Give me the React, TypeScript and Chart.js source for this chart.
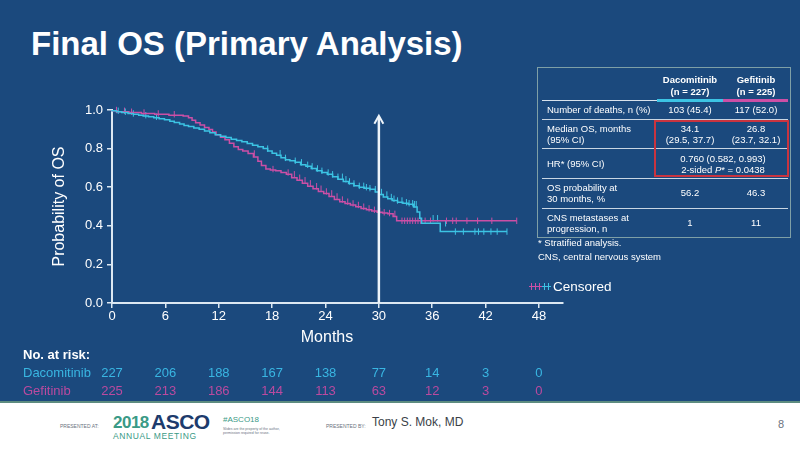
import React, { useEffect, useRef } from "react";
import { Chart, registerables } from "chart.js";

Chart.register(...registerables);

const FONT = '"Liberation Sans", Arial, Helvetica, sans-serif';
const BG = "#1b497d";
const AXIS = "#dce8f2";
const CYAN = "#3cc4e4";
const MAGENTA = "#cc4fa6";
const CYAN_TXT = "#39b6e2";
const MAG_TXT = "#bb4a9f";

// Kaplan-Meier curves: [month, survival probability]
const dacoCurve: [number, number][] = [
  [0, 1], [0.5, 0.996], [1.1, 0.991], [1.8, 0.987], [2.4, 0.982], [3.0, 0.978], [3.5, 0.973],
  [4.1, 0.969], [4.7, 0.965], [5.3, 0.96], [5.9, 0.955], [6.5, 0.949], [7.0, 0.942], [7.6, 0.935],
  [8.1, 0.928], [8.6, 0.92], [9.2, 0.914], [9.8, 0.907], [10.4, 0.9], [11.0, 0.891], [11.6, 0.882],
  [12.2, 0.872], [12.8, 0.864], [13.4, 0.857], [14.0, 0.849], [14.6, 0.842], [15.2, 0.835],
  [15.8, 0.826], [16.4, 0.818], [17.0, 0.809], [17.5, 0.8], [18.0, 0.787], [18.5, 0.776],
  [19.0, 0.766], [19.5, 0.752], [20.0, 0.742], [20.6, 0.737], [21.2, 0.729], [21.8, 0.716],
  [22.4, 0.708], [23.0, 0.697], [23.6, 0.685], [24.2, 0.676], [24.8, 0.667], [25.4, 0.654],
  [26.0, 0.641], [26.6, 0.63], [27.2, 0.619], [27.8, 0.607], [28.4, 0.6], [29.0, 0.595],
  [29.6, 0.59], [30.0, 0.575], [30.5, 0.562], [31.0, 0.549], [31.5, 0.54], [32.1, 0.531],
  [32.7, 0.522], [33.3, 0.517], [33.9, 0.512], [34.3, 0.498], [34.6, 0.472], [34.8, 0.439],
  [36.9, 0.413], [37.8, 0.37], [44.4, 0.37],
];

const gefiCurve: [number, number][] = [
  [0, 1], [0.6, 0.996], [1.9, 0.991], [3.3, 0.987], [4.8, 0.982], [6.4, 0.978], [8.0, 0.973],
  [8.6, 0.969], [9.0, 0.96], [9.4, 0.947], [9.9, 0.934], [10.4, 0.922], [10.9, 0.909],
  [11.3, 0.899], [11.7, 0.886], [12.2, 0.872], [12.7, 0.859], [13.2, 0.846], [13.7, 0.828],
  [14.2, 0.81], [14.7, 0.795], [15.3, 0.788], [15.9, 0.775], [16.4, 0.757], [16.8, 0.735],
  [17.3, 0.712], [17.8, 0.694], [18.4, 0.689], [19.0, 0.685], [19.6, 0.676], [20.2, 0.667],
  [20.8, 0.649], [21.4, 0.636], [22.0, 0.62], [22.6, 0.605], [23.2, 0.592], [23.8, 0.578],
  [24.4, 0.568], [25.0, 0.552], [25.6, 0.536], [26.2, 0.525], [26.8, 0.516], [27.4, 0.508],
  [28.0, 0.499], [28.6, 0.49], [29.2, 0.483], [29.8, 0.477], [30.4, 0.47], [31.0, 0.466],
  [31.6, 0.462], [32.0, 0.448], [32.4, 0.426], [45.5, 0.426],
];

// Censoring times (months)
const dacoCensor: number[] = [
  0.7, 1.5, 2.4, 3.8, 5.0, 17.5, 18.9, 19.5, 20.6, 21.3, 22.0, 22.5, 23.1, 23.6, 24.3, 24.8,
  25.4, 25.9, 26.3, 26.7, 27.2, 27.8, 28.3, 28.6, 29.0, 29.6, 30.3, 30.9, 31.4, 31.7, 32.1,
  32.6, 33.1, 33.4, 33.8, 34.0, 34.2, 36.1, 36.6, 37.5, 38.6, 39.5, 40.8, 41.2, 41.8, 42.6,
  43.3, 44.4,
];
const gefiCensor: number[] = [
  0.5, 1.4, 2.2, 3.6, 5.2, 7.0, 16.0, 18.1, 19.8, 20.5, 21.1, 21.7, 22.3, 23.0, 23.5, 24.1,
  24.7, 25.3, 25.9, 26.5, 27.1, 27.7, 28.3, 28.9, 29.5, 30.1, 30.6, 31.2, 31.8, 32.6, 32.9,
  33.2, 33.5, 33.8, 34.1, 34.4, 34.7, 35.2, 35.8, 37.6, 38.3, 38.7, 39.9, 41.1, 42.7, 45.5,
];

// Number at risk
const riskMonths: number[] = [0, 6, 12, 18, 24, 30, 36, 42, 48];
const dacoRisk: number[] = [227, 206, 188, 167, 138, 77, 14, 3, 0];
const gefiRisk: number[] = [225, 213, 186, 144, 113, 63, 12, 3, 0];

const arrowMonth = 30;
const arrowTop = 0.97;

function survAt(curve: [number, number][], t: number): number {
  let s = curve[0][1];
  for (const [m, v] of curve) {
    if (m <= t) s = v;
    else break;
  }
  return s;
}

const overlayPlugin = {
  id: "overlay",
  afterDatasetsDraw(chart: any) {
    const { ctx, scales } = chart;
    const x = scales.x;
    const y = scales.y;
    ctx.save();
    const ax = x.getPixelForValue(arrowMonth);
    const y0 = y.getPixelForValue(0);
    const y1 = y.getPixelForValue(arrowTop);
    ctx.strokeStyle = "#eef4fa";
    ctx.lineWidth = 2.5;
    ctx.beginPath();
    ctx.moveTo(ax, y0);
    ctx.lineTo(ax, y1 + 1);
    ctx.stroke();
    ctx.lineWidth = 2;
    ctx.beginPath();
    ctx.moveTo(ax - 4.5, y1 + 8);
    ctx.lineTo(ax, y1);
    ctx.lineTo(ax + 4.5, y1 + 8);
    ctx.stroke();

    ctx.font = `13px ${FONT}`;
    ctx.textAlign = "center";
    ctx.textBaseline = "middle";
    riskMonths.forEach((m, i) => {
      const px = x.getPixelForValue(m);
      ctx.fillStyle = CYAN_TXT;
      ctx.fillText(String(dacoRisk[i]), px, 373);
      ctx.fillStyle = MAG_TXT;
      ctx.fillText(String(gefiRisk[i]), px, 391);
    });
    ctx.restore();
  },
};

type TxtProps = {
  x: number;
  y: number;
  size?: number;
  bold?: boolean;
  color?: string;
  align?: "left" | "center" | "right";
  style?: React.CSSProperties;
  children: React.ReactNode;
};

function Txt({ x, y, size = 9.5, bold = false, color = "#fff", align = "left", style, children }: TxtProps) {
  const tx = align === "center" ? "-50%" : align === "right" ? "-100%" : "0";
  return (
    <div
      style={{
        position: "absolute",
        left: x,
        top: y,
        transform: `translate(${tx}, -50%)`,
        fontSize: size,
        fontWeight: bold ? 700 : 400,
        color,
        whiteSpace: "nowrap",
        lineHeight: 1.15,
        textAlign: align,
        ...style,
      }}
    >
      {children}
    </div>
  );
}

function Line({ x1, x2, y, color, h = 1 }: { x1: number; x2: number; y: number; color: string; h?: number }) {
  return <div style={{ position: "absolute", left: x1, top: y - h / 2, width: x2 - x1, height: h, background: color }} />;
}

export default function App() {
  const canvasRef = useRef<HTMLCanvasElement | null>(null);

  useEffect(() => {
    if (!canvasRef.current) return;
    Chart.defaults.font.family = FONT;
    const chart = new Chart(canvasRef.current, {
      type: "line",
      data: {
        datasets: [
          {
            label: "Dacomitinib",
            data: dacoCurve.map(([t, s]) => ({ x: t, y: s })),
            stepped: "after",
            borderColor: CYAN,
            borderWidth: 1.5,
            pointRadius: 0,
            fill: false,
            clip: false,
          } as any,
          {
            label: "Gefitinib",
            data: gefiCurve.map(([t, s]) => ({ x: t, y: s })),
            stepped: "after",
            borderColor: MAGENTA,
            borderWidth: 1.5,
            pointRadius: 0,
            fill: false,
            clip: false,
          } as any,
          {
            type: "scatter",
            label: "Dacomitinib censored",
            data: dacoCensor.map((t) => ({ x: t, y: survAt(dacoCurve, t) })),
            pointStyle: "line",
            rotation: 90,
            pointRadius: 3.2,
            borderColor: CYAN,
            backgroundColor: CYAN,
            borderWidth: 1,
            showLine: false,
            clip: false,
          } as any,
          {
            type: "scatter",
            label: "Gefitinib censored",
            data: gefiCensor.map((t) => ({ x: t, y: survAt(gefiCurve, t) })),
            pointStyle: "line",
            rotation: 90,
            pointRadius: 3.2,
            borderColor: MAGENTA,
            backgroundColor: MAGENTA,
            borderWidth: 1,
            showLine: false,
            clip: false,
          } as any,
        ],
      },
      options: {
        responsive: false,
        animation: false,
        events: [],
        layout: { padding: { left: 46, top: 110, right: 237, bottom: 117 } },
        plugins: { legend: { display: false }, tooltip: { enabled: false } },
        scales: {
          x: {
            type: "linear",
            min: 0,
            max: 50.7,
            afterFit: (s: any) => {
              s.height = 30;
            },
            ticks: {
              stepSize: 6,
              includeBounds: false,
              color: "#ffffff",
              font: { size: 13, family: FONT },
              padding: 1,
              maxRotation: 0,
            },
            grid: { drawOnChartArea: false, drawTicks: true, tickLength: 5, color: AXIS, lineWidth: 1.5 },
            border: { display: true, color: AXIS, width: 2 },
          },
          y: {
            type: "linear",
            min: 0,
            max: 1,
            afterFit: (s: any) => {
              s.width = 66;
            },
            ticks: {
              stepSize: 0.2,
              color: "#ffffff",
              font: { size: 13, family: FONT },
              padding: 4,
              callback: (v: any) => Number(v).toFixed(1),
            },
            title: {
              display: true,
              text: "Probability of OS",
              color: "#ffffff",
              font: { size: 16, family: FONT },
              padding: { top: 4, bottom: 0 },
            },
            grid: { drawOnChartArea: false, drawTicks: true, tickLength: 5, color: AXIS, lineWidth: 1.5 },
            border: { display: true, color: AXIS, width: 2 },
          },
        },
      } as any,
      plugins: [overlayPlugin],
    });
    return () => chart.destroy();
  }, []);

  return (
    <div
      style={{
        position: "fixed",
        left: 0,
        top: 0,
        width: 800,
        height: 450,
        background: BG,
        overflow: "hidden",
        fontFamily: FONT,
      }}
    >
      {/* title */}
      <Txt x={31} y={43.5} size={33} bold>
        Final OS (Primary Analysis)
      </Txt>

      <canvas ref={canvasRef} width={800} height={450} style={{ position: "absolute", left: 0, top: 0, width: 800, height: 450 }} />

      {/* axis title */}
      <Txt x={327} y={337} size={16} align="center">Months</Txt>

      {/* censored legend */}
      <div style={{ position: "absolute", left: 529, top: 286, width: 13, height: 1.2, background: MAGENTA }} />
      <div style={{ position: "absolute", left: 542, top: 286, width: 9, height: 1.2, background: CYAN }} />
      {[531, 535, 539].map((px) => (
        <div key={px} style={{ position: "absolute", left: px, top: 283, width: 1, height: 7, background: MAGENTA }} />
      ))}
      {[544, 548].map((px) => (
        <div key={px} style={{ position: "absolute", left: px, top: 283, width: 1, height: 7, background: CYAN }} />
      ))}
      <Txt x={553} y={286.5} size={13.5}>Censored</Txt>

      {/* number at risk */}
      <Txt x={23} y={355} size={13} bold>No. at risk:</Txt>
      <Txt x={23} y={373} size={13} color={CYAN_TXT}>Dacomitinib</Txt>
      <Txt x={23} y={391} size={13} color={MAG_TXT}>Gefitinib</Txt>

      {/* summary table */}
      <div style={{ position: "absolute", left: 537, top: 67, width: 254, height: 171, border: "1.5px solid #7e9fa6", boxSizing: "border-box" }} />
      <Txt x={690} y={80} bold align="center">Dacomitinib</Txt>
      <Txt x={690} y={92} bold align="center">(n = 227)</Txt>
      <Txt x={756} y={80} bold align="center">Gefitinib</Txt>
      <Txt x={756} y={92} bold align="center">(n = 225)</Txt>
      <Line x1={542} x2={657} y={100.5} color="#d8e2ec" h={1} />
      <Line x1={657} x2={723} y={100.5} color={CYAN} h={3} />
      <Line x1={723} x2={788} y={100.5} color={MAGENTA} h={3} />
      <Line x1={542} x2={788} y={119.5} color="#c9d6e3" />
      <Line x1={542} x2={788} y={148.5} color="#c9d6e3" />
      <Line x1={542} x2={788} y={178.5} color="#c9d6e3" />
      <Line x1={542} x2={788} y={208.5} color="#c9d6e3" />

      <Txt x={547} y={110}>Number of deaths, n (%)</Txt>
      <Txt x={690} y={110} align="center">103 (45.4)</Txt>
      <Txt x={756} y={110} align="center">117 (52.0)</Txt>

      <Txt x={547} y={129}>Median OS, months</Txt>
      <Txt x={547} y={140}>(95% CI)</Txt>
      <Txt x={690} y={129} align="center">34.1</Txt>
      <Txt x={690} y={140} align="center">(29.5, 37.7)</Txt>
      <Txt x={756} y={129} align="center">26.8</Txt>
      <Txt x={756} y={140} align="center">(23.7, 32.1)</Txt>

      <Txt x={547} y={164}>HR* (95% CI)</Txt>
      <Txt x={723} y={158.5} align="center">0.760 (0.582, 0.993)</Txt>
      <Txt x={723} y={170} align="center">
        2-sided <i>P</i>* = 0.0438
      </Txt>

      <Txt x={547} y={188}>OS probability at</Txt>
      <Txt x={547} y={198.5}>30 months, %</Txt>
      <Txt x={690} y={193} align="center">56.2</Txt>
      <Txt x={756} y={193} align="center">46.3</Txt>

      <Txt x={547} y={218}>CNS metastases at</Txt>
      <Txt x={547} y={228.5}>progression, n</Txt>
      <Txt x={690} y={223} align="center">1</Txt>
      <Txt x={756} y={223} align="center">11</Txt>

      <div style={{ position: "absolute", left: 654, top: 120, width: 135, height: 57, border: "2px solid #c9343f", boxSizing: "border-box" }} />

      <Txt x={538} y={243}>* Stratified analysis.</Txt>
      <Txt x={538} y={257}>CNS, central nervous system</Txt>

      {/* footer */}
      <div style={{ position: "absolute", left: 0, top: 402, width: 800, height: 48, background: "#ffffff" }} />
      <div style={{ position: "absolute", left: 0, top: 401, width: 800, height: 2, background: "#5d8c80" }} />
      <Txt x={60} y={427} size={5} color="#6b7380">PRESENTED AT:</Txt>
      <Txt x={113} y={423} size={17} bold color="#3a9a86" style={{ letterSpacing: -0.5 }}>2018</Txt>
      <Txt x={151} y={422} size={21} bold color="#1d3b6c" style={{ letterSpacing: -0.5 }}>ASCO</Txt>
      <Txt x={113} y={437} size={8.5} color="#3a9a86" style={{ letterSpacing: 0.6 }}>ANNUAL MEETING</Txt>
      <Txt x={223} y={420} size={8} color="#3a9a86">#ASCO18</Txt>
      <Txt x={223} y={429} size={3.5} color="#6b7380">Slides are the property of the author,</Txt>
      <Txt x={223} y={433} size={3.5} color="#6b7380">permission required for reuse.</Txt>
      <Txt x={326} y={427} size={5} color="#6b7380">PRESENTED BY:</Txt>
      <Txt x={372} y={423} size={12} color="#3a3f48">Tony S. Mok, MD</Txt>
      <Txt x={781} y={424} size={11} color="#6b7380" align="center">8</Txt>
    </div>
  );
}
